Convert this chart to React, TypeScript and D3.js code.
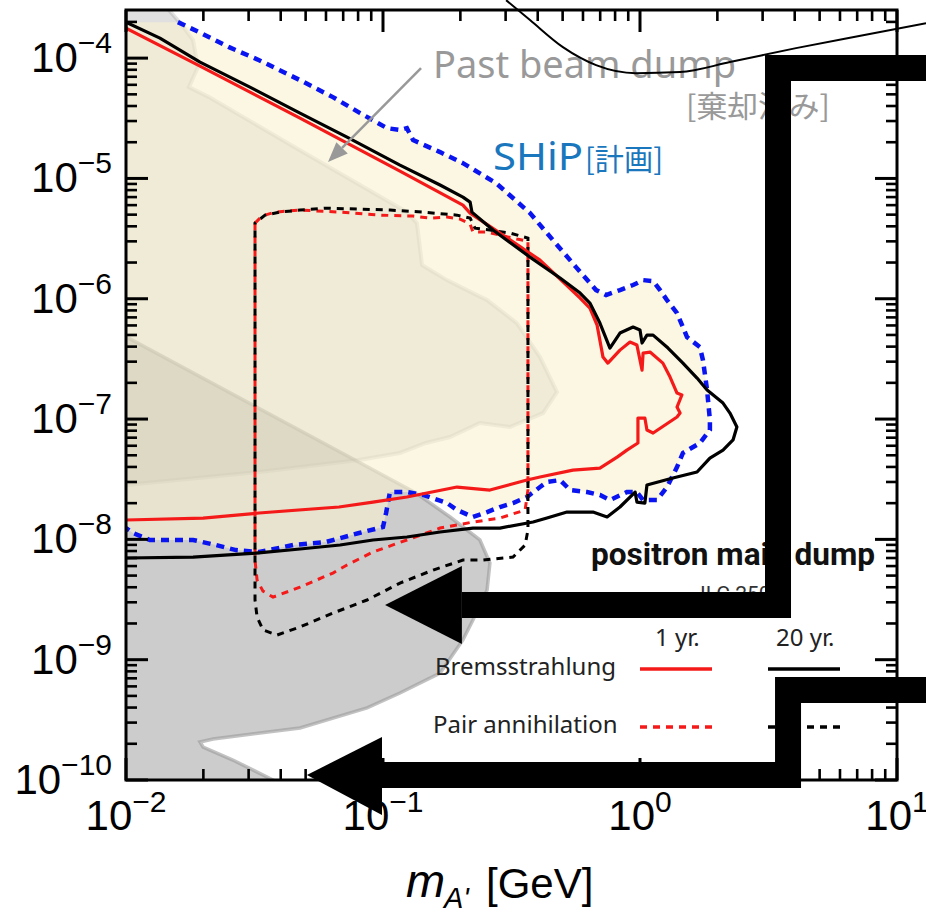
import React, { useEffect, useRef } from 'react';
import * as d3 from 'd3';

// every point is [log10(m_A' / GeV), log10(epsilon)]
type Pt = [number, number];

const xDecades = [-2, -1, 0, 1];
const yDecades = [-10, -9, -8, -7, -6, -5, -4];
const minorSteps = [2, 3, 4, 5, 6, 7, 8, 9];

// ILC positron main dump, bremsstrahlung, 20 yr (black solid)
const brems20: Pt[] = [
  [-2.0, -3.701], [-1.868, -3.834], [-1.712, -4.033], [-1.518, -4.241], [-1.323, -4.457],
  [-1.14, -4.657], [-0.934, -4.889], [-0.778, -5.055], [-0.689, -5.155], [-0.661, -5.197],
  [-0.654, -5.28], [-0.572, -5.429], [-0.428, -5.654], [-0.311, -5.828], [-0.233, -5.953],
  [-0.195, -6.036], [-0.156, -6.202], [-0.117, -6.41], [-0.078, -6.285], [-0.027, -6.235],
  [0.0, -6.26], [0.008, -6.368], [0.027, -6.302], [0.051, -6.302], [0.109, -6.41],
  [0.167, -6.535], [0.222, -6.659], [0.261, -6.759], [0.323, -6.867], [0.35, -6.95],
  [0.377, -7.066], [0.362, -7.174], [0.323, -7.258], [0.272, -7.324], [0.222, -7.44],
  [0.128, -7.49], [0.027, -7.548], [0.019, -7.698], [-0.012, -7.69], [-0.019, -7.607],
  [-0.078, -7.731], [-0.128, -7.814], [-0.183, -7.773], [-0.284, -7.773], [-0.362, -7.823],
  [-0.416, -7.856], [-0.545, -7.906], [-0.65, -7.906], [-0.778, -7.939], [-0.907, -7.98],
  [-1.039, -8.005], [-1.167, -8.047], [-1.323, -8.08], [-1.494, -8.114], [-1.739, -8.147],
  [-2.0, -8.155],
];

// bremsstrahlung, 1 yr (red solid)
const brems1: Pt[] = [
  [-2.0, -3.751], [-1.712, -4.066], [-1.323, -4.499], [-0.934, -4.939], [-0.689, -5.222],
  [-0.661, -5.288], [-0.545, -5.454], [-0.389, -5.679], [-0.233, -5.994], [-0.195, -6.078],
  [-0.167, -6.219], [-0.144, -6.485], [-0.125, -6.535], [-0.078, -6.427], [-0.039, -6.36],
  [-0.012, -6.385], [0.008, -6.593], [0.012, -6.452], [0.039, -6.443], [0.089, -6.535],
  [0.117, -6.651], [0.144, -6.784], [0.163, -6.8], [0.144, -6.9], [0.156, -6.95],
  [0.144, -6.983], [0.051, -7.116], [0.027, -7.091], [0.019, -6.992], [-0.008, -6.992],
  [-0.008, -7.199], [-0.051, -7.258], [-0.089, -7.316], [-0.156, -7.407], [-0.261, -7.424],
  [-0.389, -7.482], [-0.44, -7.507], [-0.584, -7.59], [-0.712, -7.565], [-0.907, -7.648],
  [-1.039, -7.69], [-1.171, -7.731], [-1.482, -7.781], [-1.7, -7.823], [-2.0, -7.839],
];

// pair annihilation, 1 yr (red dashed)
const pair1: Pt[] = [
  [-1.498, -5.371], [-1.471, -5.313], [-1.42, -5.28], [-1.323, -5.263], [-1.167, -5.28],
  [-1.012, -5.305], [-0.883, -5.313], [-0.817, -5.33], [-0.751, -5.321], [-0.7, -5.338],
  [-0.661, -5.379], [-0.65, -5.446], [-0.595, -5.446], [-0.545, -5.471], [-0.479, -5.504],
  [-0.436, -5.521], [-0.436, -7.59], [-0.447, -7.756], [-0.545, -7.823], [-0.65, -7.856],
  [-0.778, -7.906], [-0.907, -8.005], [-1.039, -8.105], [-1.14, -8.213], [-1.195, -8.28],
  [-1.323, -8.397], [-1.428, -8.48], [-1.467, -8.43], [-1.49, -8.338], [-1.498, -8.172],
];

// pair annihilation, 20 yr (black dashed)
const pair20: Pt[] = [
  [-1.498, -5.371], [-1.459, -5.305], [-1.401, -5.28], [-1.323, -5.263], [-1.226, -5.247],
  [-1.089, -5.255], [-0.973, -5.263], [-0.844, -5.28], [-0.712, -5.305], [-0.661, -5.33],
  [-0.642, -5.413], [-0.584, -5.429], [-0.506, -5.454], [-0.436, -5.496], [-0.436, -7.922],
  [-0.447, -8.047], [-0.494, -8.147], [-0.611, -8.172], [-0.689, -8.172], [-0.805, -8.255],
  [-0.934, -8.363], [-1.062, -8.504], [-1.195, -8.613], [-1.323, -8.728], [-1.412, -8.795],
  [-1.467, -8.753], [-1.49, -8.645], [-1.498, -8.504],
];

// SHiP projection (blue dashed)
const ship: Pt[] = [
  [-1.798, -3.701], [-1.716, -3.784], [-1.599, -3.909], [-1.482, -4.017], [-1.323, -4.183],
  [-1.195, -4.324], [-1.089, -4.457], [-0.984, -4.582], [-0.934, -4.598], [-0.907, -4.582],
  [-0.883, -4.681], [-0.778, -4.781], [-0.689, -4.873], [-0.56, -5.039], [-0.428, -5.288],
  [-0.339, -5.512], [-0.249, -5.737], [-0.171, -5.928], [-0.132, -5.969], [-0.078, -5.928],
  [-0.027, -5.886], [0.012, -5.845], [0.051, -5.853], [0.078, -5.928], [0.105, -6.011],
  [0.144, -6.119], [0.183, -6.318], [0.233, -6.402], [0.245, -6.51], [0.261, -6.759],
  [0.272, -7.008], [0.272, -7.091], [0.233, -7.199], [0.167, -7.282], [0.144, -7.399],
  [0.105, -7.565], [0.066, -7.673], [0.012, -7.673], [-0.012, -7.607], [-0.051, -7.607],
  [-0.117, -7.673], [-0.156, -7.631], [-0.206, -7.607], [-0.272, -7.59], [-0.311, -7.507],
  [-0.362, -7.523], [-0.389, -7.565], [-0.44, -7.648], [-0.494, -7.698], [-0.545, -7.731],
  [-0.595, -7.773], [-0.65, -7.814], [-0.712, -7.756], [-0.751, -7.698], [-0.844, -7.631],
  [-0.907, -7.607], [-0.973, -7.607], [-0.988, -7.781], [-1.0, -7.897], [-1.093, -7.947],
  [-1.222, -8.022], [-1.35, -8.047], [-1.482, -8.105], [-1.572, -8.089], [-1.65, -8.047],
  [-1.739, -8.005], [-1.907, -8.005], [-1.973, -7.947], [-2.0, -7.906],
];
const shipClose: Pt[] = [[-2.0, -3.701]];

// past beam dump exclusion
const pastDump: Pt[] = [
  [-2.1, -3.5], [-1.833, -3.5], [-1.833, -3.601], [-1.782, -3.726], [-1.739, -3.85],
  [-1.72, -4.075], [-1.755, -4.241], [-1.677, -4.324], [-1.323, -4.765], [-0.907, -5.28],
  [-0.868, -5.371], [-0.848, -5.72], [-0.751, -5.845], [-0.65, -5.953], [-0.595, -6.011],
  [-0.479, -6.202], [-0.389, -6.485], [-0.323, -6.776], [-0.377, -6.95], [-0.506, -7.066],
  [-0.623, -7.033], [-0.739, -7.149], [-0.833, -7.199], [-0.934, -7.282], [-1.093, -7.341],
  [-1.482, -7.44], [-2.0, -7.548], [-2.1, -7.56],
];

// supernova bound
const supernova: Pt[] = [
  [-2.1, -6.2], [-1.167, -7.274], [-0.872, -7.615], [-0.739, -7.814], [-0.623, -8.005],
  [-0.584, -8.197], [-0.595, -8.421], [-0.65, -8.67], [-0.689, -8.836], [-0.778, -9.111],
  [-0.934, -9.277], [-1.062, -9.401], [-1.323, -9.568], [-1.661, -9.659], [-1.712, -9.684],
  [-1.7, -9.726], [-1.584, -9.834], [-1.428, -10.0], [-1.284, -10.166], [-2.1, -10.2],
];

// hand-drawn overlays
const pointer: Pt[] = [[-0.852, -4.083], [-1.214, -4.864]];
const sketchCurve: Pt[] = [
  [-0.521, -3.518], [-0.428, -3.684], [-0.3, -3.909], [-0.171, -4.058], [-0.016, -4.125],
  [0.156, -4.116], [0.35, -4.033], [0.607, -3.917], [0.868, -3.809], [1.113, -3.709],
];
const bracketTop: Pt[] = [[1.167, -4.083], [0.537, -4.083], [0.537, -8.546], [-0.693, -8.546]];
const arrowTop: Pt[] = [[-0.693, -8.221], [-0.693, -8.87], [-0.992, -8.546]];
const bracketBottom: Pt[] = [[1.167, -9.252], [0.576, -9.252], [0.576, -9.958], [-1.004, -9.958]];
const arrowBottom: Pt[] = [[-1.004, -9.643], [-1.004, -10.291], [-1.296, -9.958]];

const legendCols = ['1 yr.', '20 yr.'];
const legendRows = ['Bremsstrahlung', 'Pair annihilation'];

export default function App() {
  const svgRef = useRef<SVGSVGElement>(null);

  useEffect(() => {
    if (!svgRef.current) return;
    const svg = d3.select(svgRef.current);
    svg.selectAll('*').remove();

    const W = 926;
    const H = 914;
    const plot = { left: 126, right: 897, top: 10, bottom: 780 };

    const x = d3.scaleLog().domain([1e-2, 1e1]).range([plot.left, plot.right]);
    const y = d3.scaleLog().domain([1e-10, Math.pow(10, -3.6)]).range([plot.bottom, plot.top]);
    const X = (d: Pt) => x(Math.pow(10, d[0]));
    const Y = (d: Pt) => y(Math.pow(10, d[1]));
    const line = d3.line<Pt>().x(X).y(Y);
    const closed = d3.line<Pt>().x(X).y(Y).curve(d3.curveLinearClosed);

    const tickFont = "'Liberation Sans', Arial, sans-serif";
    const textFont = "'Noto Sans', sans-serif";
    const cjkFont = "'Noto Sans CJK JP', sans-serif";

    svg.append('rect').attr('width', W).attr('height', H).attr('fill', '#fff');

    svg.append('defs').append('clipPath').attr('id', 'plot-clip')
      .append('rect')
      .attr('x', plot.left).attr('y', plot.top)
      .attr('width', plot.right - plot.left).attr('height', plot.bottom - plot.top);

    // regions
    const g = svg.append('g').attr('clip-path', 'url(#plot-clip)');

    g.append('path').attr('d', closed(supernova))
      .attr('fill', '#000').attr('fill-opacity', 0.2)
      .attr('stroke', '#999').attr('stroke-opacity', 0.6).attr('stroke-width', 3.5);

    g.append('path').attr('d', closed(pastDump))
      .attr('fill', '#000').attr('fill-opacity', 0.12)
      .attr('stroke', '#888').attr('stroke-opacity', 0.25).attr('stroke-width', 4);

    g.append('path').attr('d', closed(ship.concat(shipClose)))
      .attr('fill', '#f8f2cf').attr('fill-opacity', 0.6);

    // sensitivity curves
    g.append('path').attr('d', line(ship))
      .attr('fill', 'none').attr('stroke', '#0a14f0').attr('stroke-width', 4.5)
      .attr('stroke-dasharray', '8,6');
    g.append('path').attr('d', closed(pair1))
      .attr('fill', 'none').attr('stroke', '#f51a1a').attr('stroke-width', 3)
      .attr('stroke-dasharray', '7,6');
    g.append('path').attr('d', closed(pair20))
      .attr('fill', 'none').attr('stroke', '#000').attr('stroke-width', 3)
      .attr('stroke-dasharray', '7,6').attr('stroke-dashoffset', 6);
    g.append('path').attr('d', line(brems1))
      .attr('fill', 'none').attr('stroke', '#f51a1a').attr('stroke-width', 3.2)
      .attr('stroke-linejoin', 'round');
    g.append('path').attr('d', line(brems20))
      .attr('fill', 'none').attr('stroke', '#000').attr('stroke-width', 3.2)
      .attr('stroke-linejoin', 'round');

    // frame and ticks
    svg.append('rect')
      .attr('x', plot.left).attr('y', plot.top)
      .attr('width', plot.right - plot.left).attr('height', plot.bottom - plot.top)
      .attr('fill', 'none').attr('stroke', '#000').attr('stroke-width', 3);

    const ticks = svg.append('g').attr('stroke', '#000');
    const xMinor: number[] = [];
    xDecades.slice(0, -1).forEach((d) => minorSteps.forEach((k) => xMinor.push(k * Math.pow(10, d))));
    const yMinor: number[] = [];
    yDecades.forEach((d) => minorSteps.forEach((k) => {
      const v = k * Math.pow(10, d);
      if (v < Math.pow(10, -3.6)) yMinor.push(v);
    }));

    const xTick = (v: number, len: number, w: number) => {
      ticks.append('line').attr('x1', x(v)).attr('x2', x(v))
        .attr('y1', plot.bottom).attr('y2', plot.bottom - len).attr('stroke-width', w);
      ticks.append('line').attr('x1', x(v)).attr('x2', x(v))
        .attr('y1', plot.top).attr('y2', plot.top + len).attr('stroke-width', w);
    };
    const yTick = (v: number, len: number, w: number) => {
      ticks.append('line').attr('y1', y(v)).attr('y2', y(v))
        .attr('x1', plot.left).attr('x2', plot.left + len).attr('stroke-width', w);
      ticks.append('line').attr('y1', y(v)).attr('y2', y(v))
        .attr('x1', plot.right).attr('x2', plot.right - len).attr('stroke-width', w);
    };
    xDecades.forEach((d) => xTick(Math.pow(10, d), 22, 3));
    xMinor.forEach((v) => xTick(v, 11, 2.6));
    yDecades.forEach((d) => yTick(Math.pow(10, d), 22, 3));
    yMinor.forEach((v) => yTick(v, 11, 2.6));

    const expText = (d: number) => (d < 0 ? `\u2212${-d}` : `${d}`);

    xDecades.forEach((d) => {
      const t = svg.append('text')
        .attr('x', x(Math.pow(10, d))).attr('y', 830)
        .attr('text-anchor', 'middle')
        .attr('font-family', tickFont).attr('font-size', 42).attr('fill', '#000');
      t.append('tspan').text('10');
      t.append('tspan').attr('dy', -18).attr('font-size', 30).text(expText(d));
    });
    yDecades.forEach((d) => {
      const t = svg.append('text')
        .attr('x', 112).attr('y', y(Math.pow(10, d)) + 14)
        .attr('text-anchor', 'end')
        .attr('font-family', tickFont).attr('font-size', 42).attr('fill', '#000');
      t.append('tspan').text('10');
      t.append('tspan').attr('dy', -19).attr('font-size', 30).text(expText(d));
    });

    // axis title
    svg.append('text').attr('x', 406).attr('y', 897)
      .attr('font-family', tickFont).attr('font-style', 'italic').attr('font-size', 47).text('m');
    svg.append('text').attr('x', 444).attr('y', 908)
      .attr('font-family', tickFont).attr('font-style', 'italic').attr('font-size', 29).text("A'");
    svg.append('text').attr('x', 486).attr('y', 898)
      .attr('font-family', tickFont).attr('font-size', 42).text('[GeV]');

    // annotations
    svg.append('text').attr('x', 433).attr('y', 78)
      .attr('font-family', textFont).attr('font-size', 38).attr('fill', '#999')
      .attr('textLength', 303).attr('lengthAdjust', 'spacingAndGlyphs')
      .text('Past beam dump');
    svg.append('text').attr('x', 686).attr('y', 117)
      .attr('font-family', cjkFont).attr('font-size', 30).attr('fill', '#999')
      .attr('textLength', 144).attr('lengthAdjust', 'spacingAndGlyphs')
      .text('[棄却済み]');

    const [ax1, ay1] = [X(pointer[0]), Y(pointer[0])];
    const [ax2, ay2] = [X(pointer[1]), Y(pointer[1])];
    const ang = Math.atan2(ay2 - ay1, ax2 - ax1);
    const hl = 20;
    const hw = 8;
    const bx = ax2 - hl * Math.cos(ang);
    const by = ay2 - hl * Math.sin(ang);
    svg.append('line').attr('x1', ax1).attr('y1', ay1).attr('x2', bx).attr('y2', by)
      .attr('stroke', '#999').attr('stroke-width', 2.5);
    svg.append('path')
      .attr('d', `M${ax2},${ay2}L${bx - hw * Math.sin(ang)},${by + hw * Math.cos(ang)}L${bx + hw * Math.sin(ang)},${by - hw * Math.cos(ang)}Z`)
      .attr('fill', '#999');

    svg.append('text').attr('x', 493).attr('y', 170)
      .attr('font-family', textFont).attr('font-size', 39).attr('fill', '#1a77bd')
      .attr('textLength', 90).attr('lengthAdjust', 'spacingAndGlyphs')
      .text('SHiP');
    svg.append('text').attr('x', 585).attr('y', 170)
      .attr('font-family', cjkFont).attr('font-size', 30).attr('fill', '#1a77bd')
      .attr('textLength', 78).attr('lengthAdjust', 'spacingAndGlyphs')
      .text('[計画]');

    svg.append('text').attr('x', 591).attr('y', 565)
      .attr('font-family', 'Roboto, sans-serif').attr('font-weight', 700).attr('font-size', 32)
      .attr('fill', '#111')
      .attr('textLength', 284).attr('lengthAdjust', 'spacingAndGlyphs')
      .text('positron main dump');
    svg.append('text').attr('x', 700).attr('y', 601)
      .attr('font-family', 'Roboto, sans-serif').attr('font-size', 21).attr('fill', '#333')
      .text('ILC 250');

    // legend
    const colX = [640, 768];
    const colLabelX = [655, 776];
    const rowY = [669, 727];
    const rowLabelX = [435, 433];
    legendCols.forEach((c, i) => {
      svg.append('text').attr('x', colLabelX[i]).attr('y', 646)
        .attr('font-family', textFont).attr('font-size', 24).attr('fill', '#222').text(c);
    });
    legendRows.forEach((r, j) => {
      svg.append('text').attr('x', rowLabelX[j]).attr('y', rowY[j] + 6)
        .attr('font-family', textFont).attr('font-size', 24).attr('fill', '#222').text(r);
      ['#f51a1a', '#000'].forEach((col, i) => {
        svg.append('line')
          .attr('x1', colX[i]).attr('x2', colX[i] + 72)
          .attr('y1', rowY[j]).attr('y2', rowY[j])
          .attr('stroke', col).attr('stroke-width', 3.5)
          .attr('stroke-dasharray', j === 1 ? '7,6' : null);
      });
    });

    // overlay sketch
    svg.append('path')
      .attr('d', d3.line<Pt>().x(X).y(Y).curve(d3.curveMonotoneX)(sketchCurve))
      .attr('fill', 'none').attr('stroke', '#000').attr('stroke-width', 2);

    [bracketTop, bracketBottom].forEach((b) => {
      svg.append('path').attr('d', line(b))
        .attr('fill', 'none').attr('stroke', '#000').attr('stroke-width', 26)
        .attr('stroke-linejoin', 'miter').attr('stroke-linecap', 'butt');
    });
    [arrowTop, arrowBottom].forEach((a) => {
      svg.append('path').attr('d', closed(a)).attr('fill', '#000');
    });
  }, []);

  return (
    <svg
      ref={svgRef}
      width={926}
      height={914}
      style={{ position: 'absolute', left: 0, top: 0, display: 'block' }}
    />
  );
}
